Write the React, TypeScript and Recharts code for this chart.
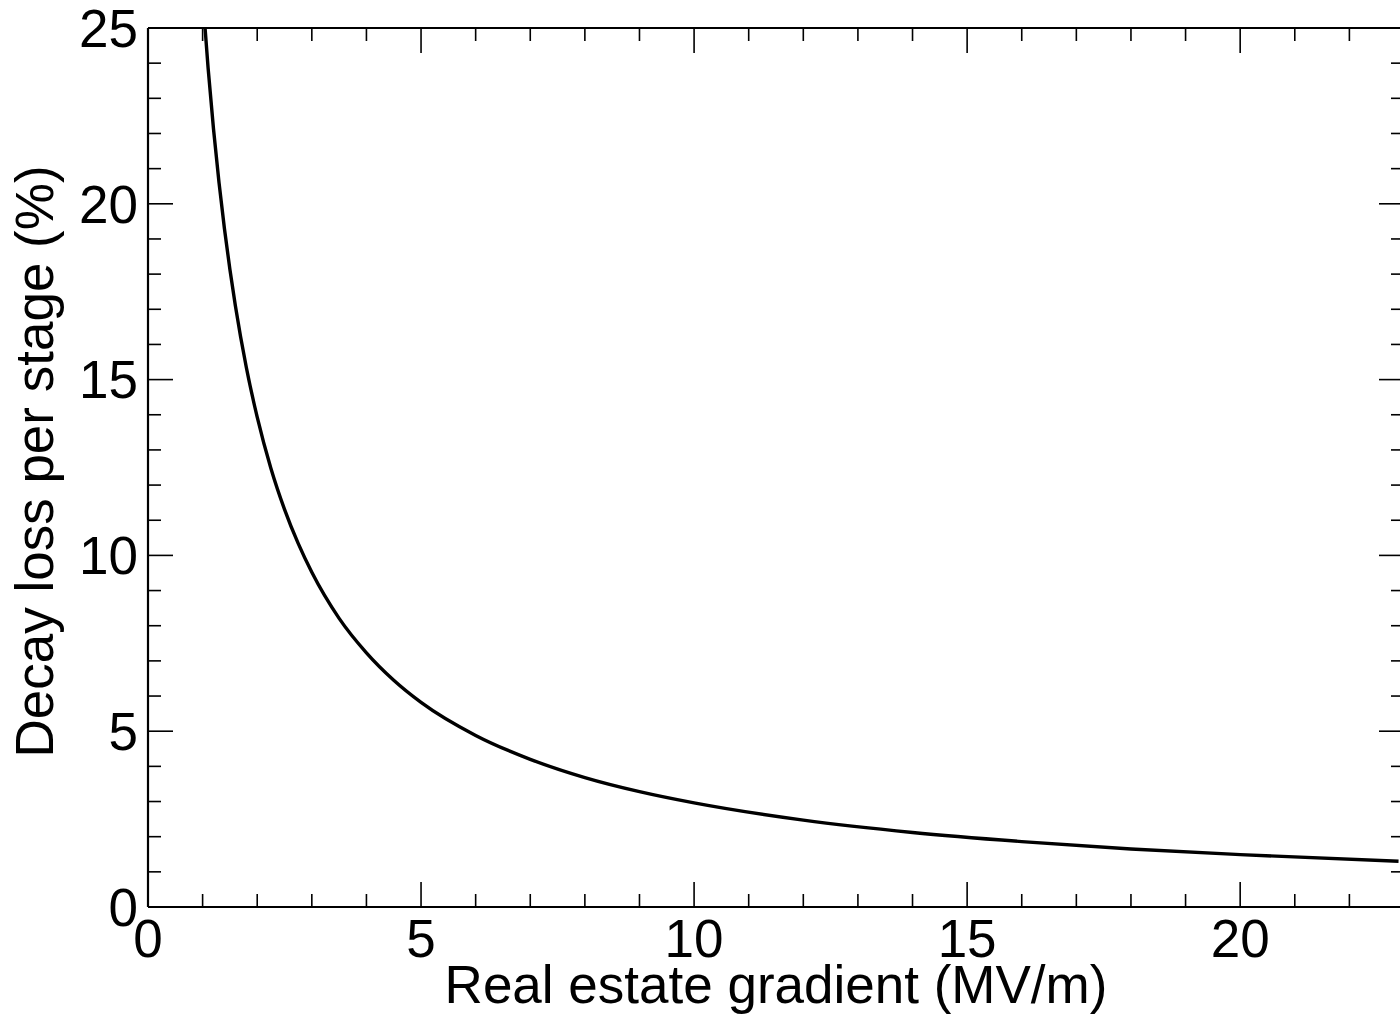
import { LineChart, Line, XAxis, YAxis } from "recharts";

// values
const gradient = [1.0, 1.1, 1.2, 1.3, 1.4, 1.5, 1.6, 1.8, 2.0, 2.25, 2.5, 2.75, 3.0, 3.5, 4.0, 4.5, 5, 6, 7, 8, 9, 10, 12, 14, 16, 18, 20, 22.9];
const decayLoss = [25.92, 23.87, 22.12, 20.61, 19.29, 18.13, 17.1, 15.35, 13.93, 12.48, 11.31, 10.34, 9.52, 8.21, 7.23, 6.45, 5.82, 4.88, 4.2, 3.68, 3.28, 2.96, 2.47, 2.12, 1.86, 1.65, 1.49, 1.3];

const xTicks = [0, 1, 2, 3, 4, 5, 6, 7, 8, 9, 10, 11, 12, 13, 14, 15, 16, 17, 18, 19, 20, 21, 22, 23];
const yTicks = [0, 1, 2, 3, 4, 5, 6, 7, 8, 9, 10, 11, 12, 13, 14, 15, 16, 17, 18, 19, 20, 21, 22, 23, 24, 25];
const xLabels = [0, 5, 10, 15, 20];
const yLabels = [0, 5, 10, 15, 20, 25];

const data = gradient.map((g, i) => ({ gradient: g, loss: decayLoss[i] }));

const FONT = "'Liberation Sans', Arial, Helvetica, sans-serif";
const MAJOR = 25;
const MINOR = 13;

const tickFor = (side: "bottom" | "top" | "left" | "right", labels: number[]) => (props: any) => {
  const { x, y, payload } = props;
  const v = payload.value;
  const major = labels.includes(v);
  const len = major ? MAJOR : MINOR;
  let line;
  if (side === "bottom") line = <line x1={x} y1={y} x2={x} y2={y - len} />;
  else if (side === "top") line = <line x1={x} y1={y} x2={x} y2={y + len} />;
  else if (side === "left") line = <line x1={x} y1={y} x2={x + len} y2={y} />;
  else line = <line x1={x} y1={y} x2={x - len} y2={y} />;
  return (
    <g>
      <g stroke="#000" strokeWidth={1.6}>{line}</g>
      {major && side === "bottom" && (
        <text x={x} y={y + 50} textAnchor="middle" fill="#000" fontSize={53} fontFamily={FONT}>
          {v}
        </text>
      )}
      {major && side === "left" && (
        <text x={x - 10} y={y} dy="0.355em" textAnchor="end" fill="#000" fontSize={53} fontFamily={FONT}>
          {v}
        </text>
      )}
    </g>
  );
};

const axisLine = { stroke: "#000", strokeWidth: 2.2 };

export default function App() {
  return (
    <div style={{ position: "absolute", left: 0, top: 0, width: 1400, height: 1022, overflow: "hidden", background: "#fff" }}>
      <LineChart width={1410} height={1022} data={data} margin={{ top: 27, right: 5, bottom: 0, left: 0 }}>
        <XAxis
          xAxisId="bottom"
          dataKey="gradient"
          type="number"
          domain={[0, 23]}
          ticks={xTicks}
          interval={0}
          allowDataOverflow
          height={115}
          tickSize={0}
          tickMargin={0}
          tickLine={false}
          axisLine={axisLine}
          tick={tickFor("bottom", xLabels)}
          label={{ value: "Real estate gradient (MV/m)", position: "insideBottom", offset: 19, fontSize: 53, fontFamily: FONT, fill: "#000" }}
        />
        <XAxis
          xAxisId="top"
          orientation="top"
          dataKey="gradient"
          type="number"
          domain={[0, 23]}
          ticks={xTicks}
          interval={0}
          allowDataOverflow
          height={1}
          tickSize={0}
          tickMargin={0}
          tickLine={false}
          axisLine={axisLine}
          tick={tickFor("top", xLabels)}
        />
        <YAxis
          yAxisId="left"
          type="number"
          domain={[0, 25]}
          ticks={yTicks}
          interval={0}
          allowDataOverflow
          width={148}
          tickSize={0}
          tickMargin={0}
          tickLine={false}
          axisLine={axisLine}
          tick={tickFor("left", yLabels)}
          label={{ value: "Decay loss per stage (%)", angle: -90, position: "center", dx: -40, dy: -6, fontSize: 53, fontFamily: FONT, fill: "#000" }}
        />
        <YAxis
          yAxisId="right"
          orientation="right"
          type="number"
          domain={[0, 25]}
          ticks={yTicks}
          interval={0}
          allowDataOverflow
          width={1}
          tickSize={0}
          tickMargin={0}
          tickLine={false}
          axisLine={axisLine}
          tick={tickFor("right", yLabels)}
        />
        <Line
          xAxisId="bottom"
          yAxisId="left"
          dataKey="loss"
          type="monotone"
          stroke="#000"
          strokeWidth={3.4}
          dot={false}
          isAnimationActive={false}
        />
      </LineChart>
    </div>
  );
}
